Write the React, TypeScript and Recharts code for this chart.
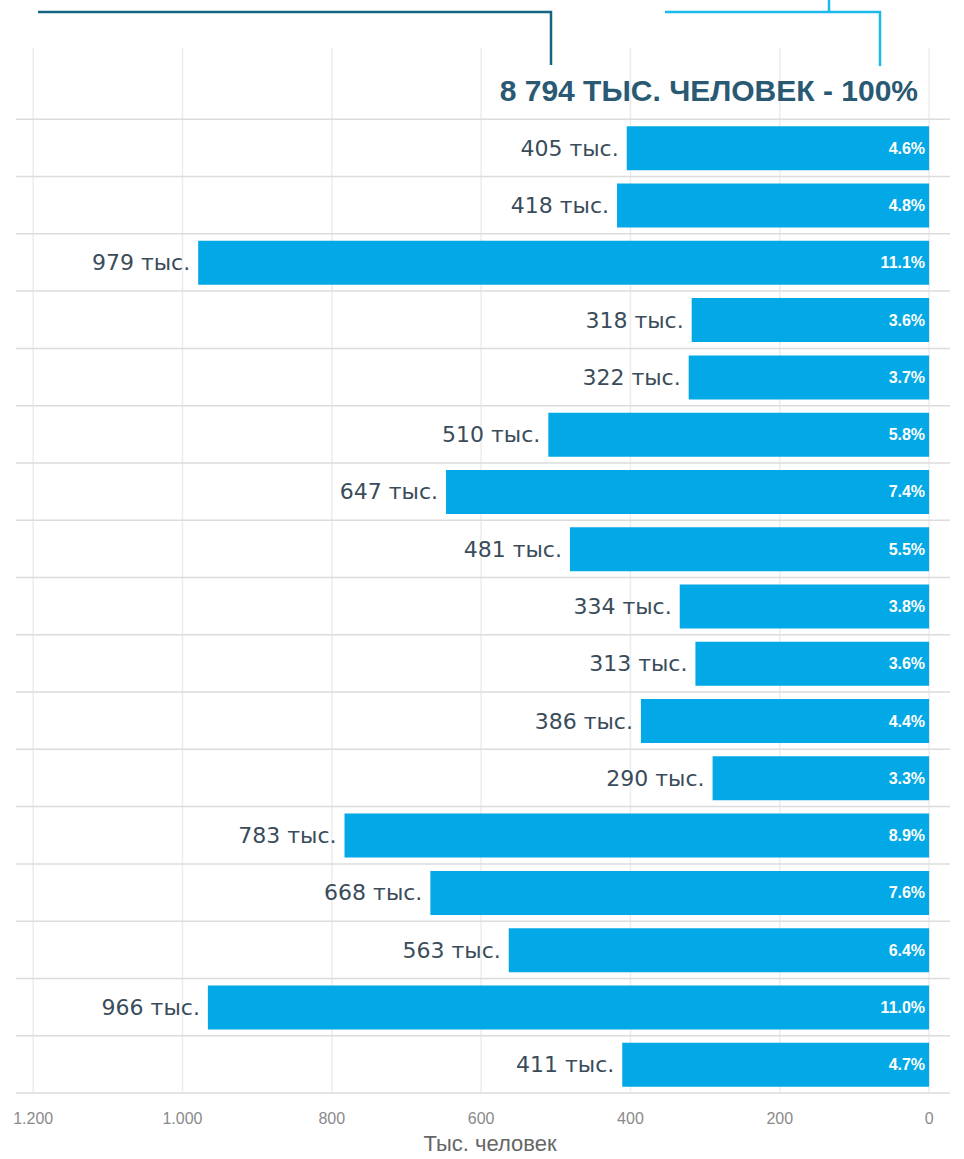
import { BarChart, Bar, XAxis, YAxis, CartesianGrid, LabelList, ReferenceLine } from "recharts";

// rows top to bottom; first row is the total header
const categories = [
  "total", "r01", "r02", "r03", "r04", "r05", "r06", "r07", "r08",
  "r09", "r10", "r11", "r12", "r13", "r14", "r15", "r16", "r17",
];
const values = [null, 405, 418, 979, 318, 322, 510, 647, 481, 334, 313, 386, 290, 783, 668, 563, 966, 411];
const shares = [null, 4.6, 4.8, 11.1, 3.6, 3.7, 5.8, 7.4, 5.5, 3.8, 3.6, 4.4, 3.3, 8.9, 7.6, 6.4, 11.0, 4.7];
const xTicks = [0, 200, 400, 600, 800, 1000, 1200];
const totalLabel = "8 794 ТЫС. ЧЕЛОВЕК - 100%";
const axisTitle = "Тыс. человек";

const data = categories.map((cat, i) => ({ cat, value: values[i], share: shares[i] }));

const BAR = "#03a9e6";
const PAD_TOP = 14;
const FONT = "'Liberation Sans', Arial, sans-serif";

const fmtTick = (v: number) => (v >= 1000 ? `${Math.floor(v / 1000)}.${String(v % 1000).padStart(3, "0")}` : `${v}`);

const renderValueLabel = (props: any) => {
  const { x, y, width, height, value } = props;
  if (value == null) return null;
  const left = Math.min(x, x + width);
  return (
    <text
      x={left - 8}
      y={y + height / 2}
      textAnchor="end"
      dominantBaseline="central"
      fill="#3a4c5a"
      fontFamily="'DejaVu Sans', sans-serif"
      fontSize={22}
    >
      {`${value} тыс.`}
    </text>
  );
};

const renderShareLabel = (props: any) => {
  const { x, y, width, height, value } = props;
  if (value == null) return null;
  const right = Math.max(x, x + width);
  return (
    <text
      x={right - 4}
      y={y + height / 2}
      textAnchor="end"
      dominantBaseline="central"
      fill="#ffffff"
      fontFamily={FONT}
      fontWeight="bold"
      fontSize={16}
    >
      {`${value.toFixed(1)}%`}
    </text>
  );
};

export default function App() {
  return (
    <div style={{ position: "absolute", left: 0, top: 0, width: 964, height: 1159, background: "#fff" }}>
      <BarChart
        width={964}
        height={1159}
        data={data}
        layout="vertical"
        margin={{ top: 48, right: 14, left: 16, bottom: 0 }}
      >
        <CartesianGrid horizontal={false} syncWithTicks stroke="#ececec" strokeWidth={1.5} />
        <CartesianGrid
          vertical={false}
          stroke="#dcdcdc"
          strokeWidth={1.5}
          horizontalCoordinatesGenerator={(args: any) => {
            const offset = args && args.offset;
            if (!offset) return [];
            const top = offset.top + PAD_TOP;
            const band = (offset.height - PAD_TOP) / categories.length;
            return categories.map((_, i) => top + (i + 1) * band);
          }}
        />
        <XAxis
          type="number"
          reversed
          domain={[-28, 1223]}
          allowDataOverflow
          ticks={xTicks}
          tickFormatter={fmtTick}
          height={66}
          axisLine={false}
          tickLine={false}
          tickSize={0}
          tickMargin={20}
          tick={{ fill: "#8a8a8a", fontSize: 16, fontFamily: "'Liberation Sans Narrow', " + FONT }}
          label={{
            value: axisTitle,
            position: "insideBottom",
            offset: 8,
            dx: 7,
            fill: "#666",
            fontSize: 22,
            fontFamily: "'Liberation Sans Narrow', " + FONT,
          }}
        />
        <YAxis
          type="category"
          dataKey="cat"
          hide
          padding={{ top: PAD_TOP, bottom: 0 }}
        />
        <ReferenceLine
          y="total"
          stroke="none"
          label={{
            value: totalLabel,
            position: "insideRight",
            offset: 32,
            fill: "#2a5a73",
            fontWeight: "bold",
            fontSize: 30,
            fontFamily: FONT,
          }}
        />
        <Bar dataKey="value" fill={BAR} barSize={44} isAnimationActive={false}>
          <LabelList dataKey="value" content={renderValueLabel} />
          <LabelList dataKey="share" content={renderShareLabel} />
        </Bar>
      </BarChart>
      <svg
        width={964}
        height={80}
        style={{ position: "absolute", left: 0, top: 0, pointerEvents: "none" }}
      >
        <polyline points="38,12 551,12 551,65" fill="none" stroke="#146482" strokeWidth={2.5} />
        <polyline points="665,12 880,12 880,66" fill="none" stroke="#1ab8ec" strokeWidth={2.5} />
        <line x1={829} y1={0} x2={829} y2={12} stroke="#1ab8ec" strokeWidth={2.5} />
      </svg>
    </div>
  );
}
